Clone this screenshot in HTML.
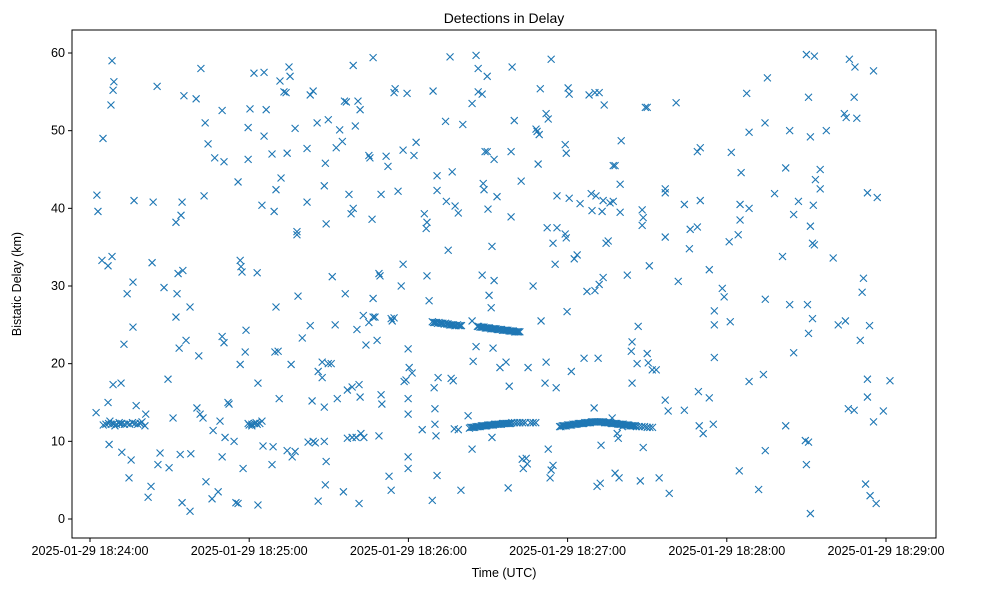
<!DOCTYPE html>
<html><head><meta charset="utf-8">
<style>
body{margin:0;background:#fff;}
svg{display:block;font-family:"Liberation Sans","DejaVu Sans",sans-serif;}
</style></head>
<body>
<svg id="chart" width="986" height="590">
<rect width="986" height="590" fill="#fff"/>
<text x="504" y="23" text-anchor="middle" font-size="14">Detections in Delay</text>
<g id="marks"></g>
<g id="axes"></g>
<text x="504" y="577" text-anchor="middle" font-size="12.5">Time (UTC)</text>
<text transform="translate(21,284) rotate(-90)" text-anchor="middle" font-size="12.5">Bistatic Delay (km)</text>
</svg>
<script>
// seconds after 2025-01-29 18:24:00 UTC
const scatterSec=[2.3,2.6,3,4.5,4.9,6.8,6.8,7.2,7.9,8.3,9,8.7,8.3,8.7,7.5,9.4,11.3,11.7,12,12.8,14,14.7,15.5,16.2,16.2,16.6,17.4,18.9,19.6,20.7,21,21.9,23,23.4,23.8,25.3,25.6,26.4,27.9,29.4,29.8,31.3,32.4,32.4,33.2,33.6,34,32.8,34.7,35,34.7,34.3,35.4,36.2,37.7,37.7,38,40,40.3,41.5,41,41.8,43,43.4,43.7,44.5,42.6,46.4,46,48.3,47,49.8,49,50.9,49.8,50.5,49.8,50.5,52,52.4,54.3,55,55.8,55.8,56.6,56.9,57.3,56.6,57.7,58.8,58.5,59.6,59.6,60.3,59.6,61,61.8,62.6,63.3,63,63.3,65.2,64.8,64.8,65.6,65.6,66.4,69.4,68.6,69,69.7,68.6,70.1,70.9,70.1,71.3,72,74.3,71.6,73.1,73.9,74.3,76.2,75,75.8,75.4,77.3,77.3,78.4,78,78,80,82.2,81.8,81.8,83,83.7,84.1,84.9,83,84.1,85.6,86,86,87.5,88.3,88.7,87.5,88.3,88.3,88.7,89,89,89.8,91.3,90.9,92.4,89.8,93.2,92.8,94.1,95.5,95.9,95.1,96.2,97,97,96.6,97.6,98.4,99.2,99.2,100,98.8,98.8,101.4,100.6,101,101.4,100.3,101.8,101.8,103,102.1,103.2,105.1,104,105.1,105.5,106.3,106.7,106.7,106.7,107.4,108.2,108.9,109.3,109.7,109.7,110,108.9,112.7,111.6,112.3,113.5,113.5,114.6,114.6,113.9,115,116.1,117.3,118,118.4,118,119.9,119.1,120.3,119.9,119.9,119.9,119.9,119.5,121.4,122.1,122.9,
125.2,126,127,127.8,129,126.7,127,129.3,130,130,130.8,130.4,130.8,129.7,131.2,130.8,134,134.3,135,135.7,136.1,136.5,137.3,137.6,138.8,136.9,139.8,138.8,140.5,142.5,144,144,144.4,144,145.5,146.3,146.3,147.8,148.2,148.5,147.8,145.5,148.9,149.7,149.7,150,150.4,151.2,151.5,152.3,151.9,151.5,153.4,152.3,154.5,157.6,156.8,158,158.7,159.1,159.9,158.7,162.5,162.9,163.3,164.8,165.1,164.4,167,168.5,168.9,169.7,168.1,169.3,170,171.5,171.9,171.9,172.7,172.3,172.7,173.4,173.8,174.5,176,175.3,176,175.7,179.1,179.5,179.1,179.5,179.8,180.6,180.6,180.2,182.5,181.4,173.8,183.6,174.5,184.7,
186.2,187.3,188.1,189.2,190,188.9,190.3,191.1,190.3,191.5,190.7,191.9,191.9,193.8,193,192.3,193.4,192.6,194.5,193.4,195.3,196,196.8,197.2,197.2,197.9,197.9,198.7,199.4,199.8,200.2,199.8,199.1,202.5,200.6,204,204.3,204.3,206.6,207.4,206.2,208.5,208.1,208.1,208.5,209.3,210,210,210.4,210.8,211.9,213.4,214.5,216.8,216.8,216.8,216.8,217.9,218.3,220.9,221.7,224,224,225.9,226.2,228.9,230,230,228.9,229.6,229.3,231.1,233.4,233.4,234.9,235.3,235.3,235.3,238.3,239,240.9,241.7,241.3,244.3,245,245,245.4,244.7,247.5,248.4,248.4,248.4,254.4,252,253.8,255.3,254.5,254.5,258,261,262.2,263.7,262.2,263.7,265.2,265.2,267,270,269.6,270.4,270.8,271.5,271.5,270.8,270.8,270,271.5,272.3,272.6,273,272.3,273,273.4,275.2,275.2,277.5,280.1,282,284.7,284.3,285,286.2,288,288.3,285.8,289,288,290.3,291,291.5,292.3,293,293,295.3,293.8,294,295.3,296.7,296.3,299,301.5,293];
const scatterKm=[13.7,41.7,39.6,33.3,49,32.6,15,9.6,53.3,59,56.3,55.2,33.8,17.3,12.6,12,12.2,17.5,8.6,22.5,29,5.3,7.6,30.5,24.7,41,14.6,12.3,12.5,12,13.5,2.8,4.2,33,40.8,55.7,7,8.5,29.8,18,6.6,13,38.2,26,31.6,22,8.3,29,40.8,32,2.1,39.1,54.5,23,1,27.3,8.4,54.1,14.3,13.5,21,58,41.6,51,4.8,48.3,13,11.4,2.6,3.5,46.5,8,12.6,10.5,52.6,46,23.5,22.7,15,14.8,10,2.1,2,43.4,33.3,32.5,31.8,19.9,6.5,24.3,21.5,46.3,50.4,52.8,12.3,12,57.4,12.4,17.5,31.7,1.8,9.4,40.4,12.6,49.3,57.5,52.7,39.6,47,9.3,21.5,7,27.3,21.6,42.4,15.5,43.9,8.8,56.4,55,54.9,47.1,8,58.2,19.9,57,50.3,8.7,28.7,37,36.6,23.3,9.9,47.7,40.8,24.9,15.2,10,9.8,54.6,55.1,51,2.3,19,20.2,10,4.4,18.2,14.4,42.9,45.8,38,7.4,20,31.2,20,25,51.4,15.5,47.8,50.1,3.5,53.8,48.6,29,10.4,16.6,53.7,41.8,39.3,40,58.4,50.6,10.5,17,2,24.4,53.8,17.3,10.5,52.7,15.7,26.2,11,10.5,25.3,22.4,46.8,46.5,38.6,59.4,26,28.4,26,23,31.6,31.3,16,41.8,14.8,10.7,5.5,46.7,45.4,3.7,25.8,25.9,54.9,25.5,55.4,42.2,30,32.8,17.7,47.5,21.9,17.9,19.5,15.5,13.5,8,6.5,54.8,18.8,46.8,48.5,
11.5,39.3,31.3,28.1,2.4,37.4,38.2,55.1,14.2,12.2,42.3,10.7,5.6,16.9,18.2,44.2,51.2,40.9,34.6,59.5,18.1,44.7,11.6,40.3,39.4,17.8,3.7,11.5,50.8,13.3,53.5,25.5,20.3,9,59.7,58,55,54.7,43.2,42.4,31.4,22.2,47.3,47.3,57,39.9,28.8,27.2,35.1,30.7,22,10.5,41.5,46.3,19.5,4,20.2,17.1,38.9,58.2,51.3,47.3,43.5,7.7,6.5,7.1,19.5,7.8,30,49.9,45.7,55.4,50.2,49.5,25.5,17.5,20.2,52.2,51.5,37.5,9,5.3,59.2,35.5,41.6,32.8,37.5,16.9,36.7,36.2,48.2,47.1,26.7,41.3,54.7,55.5,33.5,19,6.3,34,6.9,40.6,
20.7,29.3,54.6,39.7,14.3,41.9,54.9,4.2,29.4,20.7,41.6,54.9,30.2,53.3,39.6,4.6,31.1,9.5,35.5,41,35.8,40.7,13,40.9,45.5,45.5,5.9,11,5.3,43.1,48.7,39.5,10.4,31.4,11.9,21.6,22.8,17.5,24.8,4.9,20,9.2,39.8,37.8,38.8,53,53,21.3,20.1,32.6,19.2,19.2,5.3,42,36.3,42.5,15.3,13.9,3.3,53.6,30.6,40.5,14,34.8,37.3,47.3,47.8,41,37.6,12,16.4,11,32.1,15.6,12.2,26.8,25,20.8,29.7,28.6,35.7,47.2,25.4,36.6,40.5,38.5,44.6,6.2,54.8,49.8,17.7,40,51,3.8,18.6,56.8,28.3,8.8,41.9,33.8,45.2,50,12,27.6,21.4,39.2,40.9,59.8,10.1,27.6,54.3,49.2,37.7,23.9,9.9,7,0.7,35.5,40.4,59.6,25.8,35.3,43.7,42.5,45,50,33.6,25,25.5,52.2,51.7,59.2,54.3,58.2,14.2,51.6,14,23,29.2,31,4.5,15.7,18,57.7,24.9,3,12.5,41.4,2,13.9,17.8,42];
// dense tracks
const trackSec=[129,129.5,130,130.5,131,131.5,132,132.5,133,133.5,134,134.5,135,135.5,136,136.5,137,137.5,138,138.5,139,139.5,140,
146,146.5,147,147.5,148,148.5,149,149.5,150,150.5,151,151.5,152,152.5,153,153.5,154,154.5,155,155.5,156,156.5,157,157.5,158,158.5,159,159.5,160,160.5,161,161.5,162,
143,143.5,144,144.5,145,145.5,146,146.5,147,147.5,148,148.5,149,149.5,150,150.5,151,151.5,152,152.5,153,153.5,154,154.5,155,155.5,156,156.5,157,157.5,158,158.5,159,160,161,162,163,164,166,167,168,
177,177.5,178,178.5,179,179.5,180,180.5,181,181.5,182,182.5,183,183.5,184,184.5,185,185.5,186,186.5,187,187.5,188,188.5,189,189.5,190,190.5,191,191.5,192,192.5,193,193.5,194,194.5,195,195.5,196,196.5,197,197.5,198,198.5,199,199.5,200,200.5,201,201.5,202,202.5,203,203.5,204,204.5,205,205.5,206,207,208,209,210,211,212,
5,6,7,8,9,10,11,12,13,14,15,16,17,18,19,
60,61,62,63,64];
const trackKm=[25.4,25.3,25.3,25.3,25.2,25.3,25.2,25.2,25.2,25.1,25.2,25.1,25.1,25.0,25.0,25.0,25.0,24.9,24.9,25.0,24.9,24.9,24.9,
24.8,24.8,24.7,24.7,24.7,24.7,24.6,24.6,24.6,24.6,24.5,24.5,24.5,24.5,24.5,24.4,24.4,24.4,24.4,24.3,24.3,24.3,24.3,24.3,24.2,24.2,24.2,24.2,24.1,24.1,24.1,24.1,24.1,
11.7,11.8,11.8,11.8,11.8,11.9,11.9,11.9,11.9,12.0,12.0,12.0,12.0,12.0,12.1,12.1,12.1,12.1,12.1,12.2,12.2,12.2,12.2,12.2,12.2,12.3,12.3,12.3,12.3,12.3,12.3,12.3,12.4,12.4,12.4,12.4,12.4,12.4,12.4,12.4,12.4,
11.9,11.9,12.0,12.0,12.0,12.0,12.1,12.1,12.1,12.1,12.2,12.2,12.2,12.2,12.3,12.3,12.3,12.3,12.3,12.4,12.4,12.4,12.4,12.4,12.5,12.5,12.5,12.5,12.5,12.5,12.5,12.5,12.5,12.5,12.4,12.4,12.4,12.4,12.4,12.3,12.3,12.3,12.3,12.3,12.2,12.2,12.2,12.2,12.2,12.1,12.1,12.1,12.1,12.0,12.0,12.0,12.0,12.0,11.9,11.9,11.9,11.9,11.8,11.8,11.8,
12.1,12.2,12.3,12.2,12.3,12.2,12.4,12.3,12.2,12.3,12.2,12.4,12.3,12.2,12.3,
12.1,12.2,12.3,12.2,12.3];
const xTickSec=[0,60,120,180,240,300];
const xTickLabels=["2025-01-29 18:24:00","2025-01-29 18:25:00","2025-01-29 18:26:00","2025-01-29 18:27:00","2025-01-29 18:28:00","2025-01-29 18:29:00"];
const yTicks=[0,10,20,30,40,50,60];

const NS="http://www.w3.org/2000/svg";
const L=72,R=936,T=30,B=538;
function xs(s){return 90+s*(796/300);}
function ys(v){return 519-v*(466/60);}
const marks=document.getElementById('marks');
function drawX(s,v){
  const x=xs(s),y=ys(v),h=3.5;
  const p=document.createElementNS(NS,'path');
  p.setAttribute('d',`M${x-h},${y-h}L${x+h},${y+h}M${x-h},${y+h}L${x+h},${y-h}`);
  p.setAttribute('stroke','#1f77b4');p.setAttribute('stroke-width','1.1');p.setAttribute('fill','none');
  
  
  marks.appendChild(p);
}
for(let i=0;i<scatterSec.length;i++)drawX(scatterSec[i],scatterKm[i]);
for(let i=0;i<trackSec.length;i++)drawX(trackSec[i],trackKm[i]);

const axes=document.getElementById('axes');
function el(tag,attrs,text){const e=document.createElementNS(NS,tag);for(const k in attrs)e.setAttribute(k,attrs[k]);if(text!==undefined)e.textContent=text;axes.appendChild(e);return e;}
const frame=el('rect',{x:L,y:T,width:R-L,height:B-T,fill:'none',stroke:'#000','stroke-width':1});


xTickSec.forEach((s,i)=>{
  const x=xs(s);
  const t=el('line',{x1:x,x2:x,y1:B,y2:B+4,stroke:'#000'});
  
  
  const lb=el('text',{x:x,y:B+17,'text-anchor':'middle','font-size':12.6},xTickLabels[i]);
  
  
});
yTicks.forEach(v=>{
  const y=ys(v);
  const t=el('line',{x1:L-4,x2:L,y1:y,y2:y,stroke:'#000'});
  
  
  const lb=el('text',{x:L-7,y:y+4,'text-anchor':'end','font-size':12.6},String(v));
  
  
});
</script>
</body></html>
